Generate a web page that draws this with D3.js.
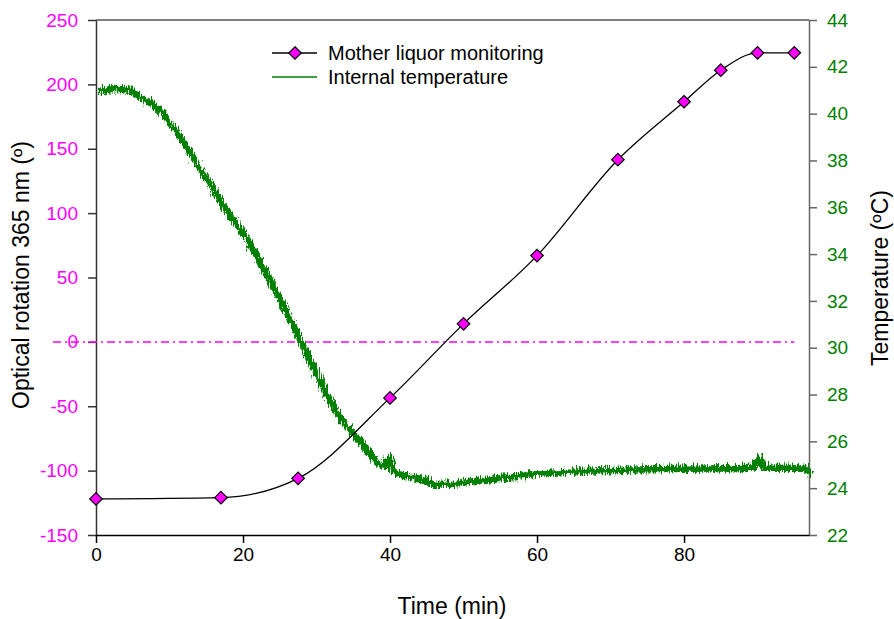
<!DOCTYPE html>
<html>
<head>
<meta charset="utf-8">
<script src="https://cdn.jsdelivr.net/npm/d3@7"></script>
<style>
    body { margin: 0; background: #fff; }
    text { font-family: "Liberation Sans", Arial, sans-serif; }
</style>
</head>
<body>
<div id="chart"></div>
<script>
// mother liquor optical rotation (left axis)
var liquorTime = [0, 17, 27.5, 40, 50, 60, 71, 80, 85, 90, 95];
var liquorRotation = [-122, -121, -106, -43.5, 14, 67, 141.5, 186.5, 211, 224.5, 224.5];

// internal temperature (right axis)
var tempTime = [0, 1.2, 2.6, 3.7, 6.0, 8.3, 10.5, 12.8, 15.1, 17.3, 19.6, 21.4, 23.3, 25.4, 27.8,
    30.1, 32.2, 34.6, 36.9, 38.6, 39.6, 40.0, 41.4, 43.7, 45.9, 48.2, 50.5, 55, 59.5, 64.1,
    68.6, 73.1, 77.7, 82.2, 89.0, 89.9, 90.6, 96.2, 96.9];
var tempValue = [41.03, 41.12, 41.18, 41.16, 40.74, 40.26, 39.40, 38.25, 37.17, 36.02, 35.03, 34.09,
    33.02, 31.73, 30.19, 28.73, 27.44, 26.46, 25.60, 25.04, 25.39, 24.87, 24.66, 24.49, 24.27,
    24.27, 24.36, 24.53, 24.70, 24.79, 24.85, 24.88, 24.91, 24.93, 24.96, 25.39, 24.96, 24.96, 24.61];

var xTicks = [0, 20, 40, 60, 80];
var leftTicks = [-150, -100, -50, 0, 50, 100, 150, 200, 250];
var rightTicks = [22, 24, 26, 28, 30, 32, 34, 36, 38, 40, 42, 44];

var margin = {top: 20, right: 85, bottom: 84, left: 96},
    width = 894 - margin.left - margin.right,
    height = 619 - margin.top - margin.bottom;

// plain hyphen for negatives, like the original
var plain = function (d) { return String(d); };

var svg = d3.select("#chart")
    .append("svg")
    .attr("width", 894)
    .attr("height", 619);

// jagged look of the noisy temperature trace
var filt = svg.append("defs").append("filter")
    .attr("id", "noise")
    .attr("x", "-2%").attr("y", "-5%")
    .attr("width", "104%").attr("height", "110%");
filt.append("feTurbulence")
    .attr("type", "turbulence")
    .attr("baseFrequency", "0.9 0.08")
    .attr("numOctaves", 2)
    .attr("seed", 3)
    .attr("result", "t");
filt.append("feDisplacementMap")
    .attr("in", "SourceGraphic")
    .attr("in2", "t")
    .attr("scale", 9)
    .attr("xChannelSelector", "R")
    .attr("yChannelSelector", "G");

var g = svg.append("g")
    .attr("transform", "translate(" + margin.left + "," + margin.top + ")");

var x = d3.scaleLinear().domain([0, 97]).range([0, width]);
var yL = d3.scaleLinear().domain([-150, 250]).range([height, 0]);
var yR = d3.scaleLinear().domain([22, 44]).range([height, 0]);

// top frame line
g.append("line")
    .attr("x1", 0).attr("x2", width)
    .attr("y1", 0).attr("y2", 0)
    .attr("stroke", "#000");

// axes
var axL = g.append("g")
    .call(d3.axisLeft(yL).tickValues(leftTicks).tickFormat(plain)
        .tickSize(8).tickSizeOuter(0).tickPadding(10));
axL.selectAll("path, line").attr("stroke", "#333").attr("stroke-width", 1.5);
axL.selectAll("text").attr("fill", "#ff00ff").style("font-size", "19px");

var axR = g.append("g")
    .attr("transform", "translate(" + width + ",0)")
    .call(d3.axisRight(yR).tickValues(rightTicks).tickFormat(plain)
        .tickSize(8).tickSizeOuter(0).tickPadding(10));
axR.selectAll("path, line").attr("stroke", "#666").attr("stroke-width", 1.5);
axR.selectAll("text").attr("fill", "#008000").style("font-size", "19px");

var axB = g.append("g")
    .attr("transform", "translate(0," + height + ")")
    .call(d3.axisBottom(x).tickValues(xTicks).tickFormat(plain)
        .tickSize(8).tickSizeOuter(0).tickPadding(5));
axB.selectAll("path, line").attr("stroke", "#000").attr("stroke-width", 1.5);
axB.selectAll("text").attr("fill", "#000").style("font-size", "19px");

// zero reference line
g.append("line")
    .attr("x1", x(-5.85)).attr("x2", x(95))
    .attr("y1", yL(0)).attr("y2", yL(0))
    .attr("stroke", "#ff00ff")
    .attr("stroke-width", 1.5)
    .attr("stroke-dasharray", "8,4,2,4");

// temperature trace
var tempData = tempTime.map(function (t, i) { return {t: t, v: tempValue[i]}; });
g.append("path")
    .datum(tempData)
    .attr("fill", "none")
    .attr("stroke", "#008000")
    .attr("stroke-width", 6.5)
    .attr("filter", "url(#noise)")
    .attr("d", d3.line()
        .x(function (d) { return x(d.t); })
        .y(function (d) { return yR(d.v); })
        .curve(d3.curveMonotoneX));

// mother liquor curve
var liquorData = liquorTime.map(function (t, i) { return {t: t, v: liquorRotation[i]}; });
g.append("path")
    .datum(liquorData)
    .attr("fill", "none")
    .attr("stroke", "#000")
    .attr("stroke-width", 1.3)
    .attr("d", d3.line()
        .x(function (d) { return x(d.t); })
        .y(function (d) { return yL(d.v); })
        .curve(d3.curveMonotoneX));

var diamond = d3.symbol().type(d3.symbolDiamond2).size(100);
g.selectAll(".pt")
    .data(liquorData)
    .enter()
    .append("path")
    .attr("class", "pt")
    .attr("transform", function (d) { return "translate(" + x(d.t) + "," + yL(d.v) + ")"; })
    .attr("d", diamond)
    .attr("fill", "#ff00ff")
    .attr("stroke", "#000")
    .attr("stroke-width", 1.2);

// legend
var leg = svg.append("g");
leg.append("line")
    .attr("x1", 272).attr("x2", 317).attr("y1", 53).attr("y2", 53)
    .attr("stroke", "#000").attr("stroke-width", 1.3);
leg.append("path")
    .attr("transform", "translate(295,53)")
    .attr("d", diamond)
    .attr("fill", "#ff00ff").attr("stroke", "#000").attr("stroke-width", 1.2);
leg.append("text")
    .attr("x", 328).attr("y", 53).attr("dy", "0.35em")
    .style("font-size", "20px")
    .text("Mother liquor monitoring");
leg.append("line")
    .attr("x1", 272).attr("x2", 317).attr("y1", 77).attr("y2", 77)
    .attr("stroke", "#008000").attr("stroke-width", 1.5);
leg.append("text")
    .attr("x", 328).attr("y", 77).attr("dy", "0.35em")
    .style("font-size", "20px")
    .text("Internal temperature");

// axis titles
svg.append("text")
    .attr("x", 452).attr("y", 614)
    .attr("text-anchor", "middle")
    .style("font-size", "23px")
    .text("Time (min)");

svg.append("text")
    .attr("transform", "translate(29,275) rotate(-90)")
    .attr("text-anchor", "middle")
    .style("font-size", "23px")
    .text("Optical rotation 365 nm (º)");

svg.append("text")
    .attr("transform", "translate(888,278) rotate(-90)")
    .attr("text-anchor", "middle")
    .style("font-size", "23px")
    .text("Temperature (ºC)");
</script>
</body>
</html>
